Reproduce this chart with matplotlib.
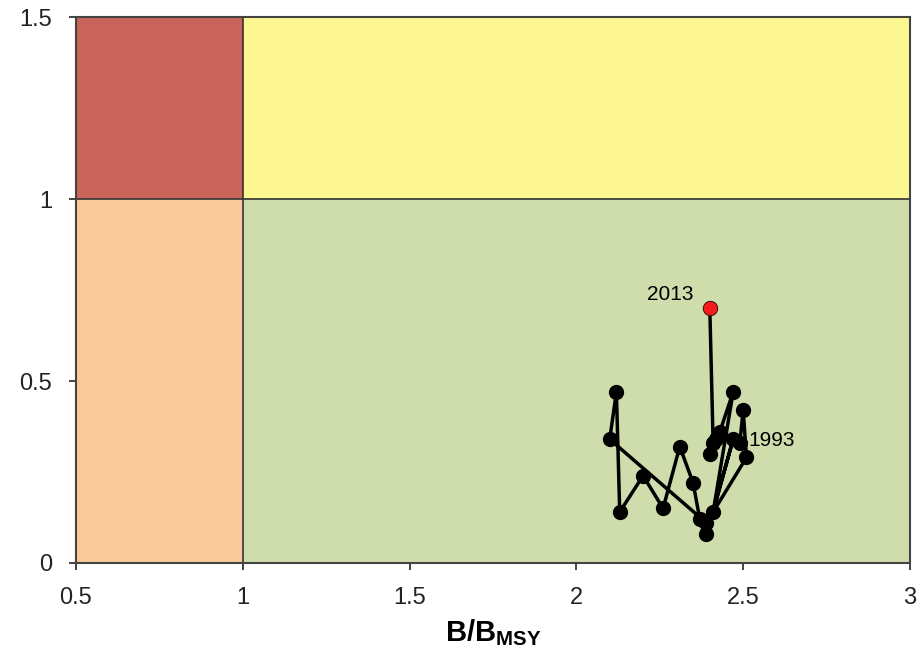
import numpy as np
import matplotlib.pyplot as plt

plt.rcParams['font.family'] = ['Liberation Sans Narrow', 'Liberation Sans', 'DejaVu Sans']
plt.rcParams['mathtext.fontset'] = 'custom'
plt.rcParams['mathtext.bf'] = 'Liberation Sans:bold'
plt.rcParams['mathtext.rm'] = 'Liberation Sans'

# stock trajectory, 1993 -> 2013
years = list(range(1993, 2014))
b_bmsy = [2.49, 2.50, 2.51, 2.39, 2.10, 2.12, 2.13, 2.20, 2.26, 2.31, 2.35,
          2.37, 2.39, 2.47, 2.41, 2.47, 2.43, 2.42, 2.40, 2.41, 2.40]
f_fmsy = [0.33, 0.42, 0.29, 0.11, 0.34, 0.47, 0.14, 0.24, 0.15, 0.32, 0.22,
          0.12, 0.08, 0.34, 0.14, 0.47, 0.36, 0.34, 0.30, 0.33, 0.70]

x_ticks = [0.5, 1, 1.5, 2, 2.5, 3]
x_labels = ['0.5', '1', '1.5', '2', '2.5', '3']
y_ticks = [0, 0.5, 1, 1.5]
y_labels = ['0', '0.5', '1', '1.5']

fig = plt.figure(figsize=(9.21, 6.59), dpi=100)
ax = fig.add_axes([0.0825, 0.1457, 0.9055, 0.8283])

# Kobe quadrants
ax.axvspan(0.5, 1, ymin=0, ymax=1/1.5, color='#f9c99b', lw=0)
ax.axvspan(0.5, 1, ymin=1/1.5, ymax=1, color='#c9645a', lw=0)
ax.axvspan(1, 3, ymin=0, ymax=1/1.5, color='#cfddac', lw=0)
ax.axvspan(1, 3, ymin=1/1.5, ymax=1, color='#fdf792', lw=0)
ax.axhline(1, color='#333333', lw=1.2)
ax.axvline(1, color='#333333', lw=1.2)

ax.plot(b_bmsy, f_fmsy, color='black', lw=2.5, marker='o', ms=10, zorder=3)
ax.plot(b_bmsy[-1], f_fmsy[-1], 'o', color='#f41c1c', mec='#f41c1c', ms=9, zorder=4)

ax.annotate(str(years[-1]), (b_bmsy[-1], f_fmsy[-1]), xytext=(-12, 10),
            textcoords='offset points', ha='right', va='center', fontsize=15)
ax.annotate(str(years[0]), (b_bmsy[0], f_fmsy[0]), xytext=(6, 2),
            textcoords='offset points', ha='left', va='center', fontsize=15)

ax.set_xlim(0.5, 3)
ax.set_ylim(0, 1.5)
ax.set_xticks(x_ticks)
ax.set_xticklabels(x_labels)
ax.set_yticks(y_ticks)
ax.set_yticklabels(y_labels)
ax.tick_params(labelsize=17, colors='#222222', length=5, width=1.2)
ax.tick_params(axis='x', pad=12)
ax.tick_params(axis='y', pad=12)
for s in ax.spines.values():
    s.set_color('#444444')
    s.set_linewidth(1.5)

ax.set_xlabel(r'B/B$_{\mathbf{MSY}}$', fontsize=21, fontweight='bold', labelpad=6)

fig.savefig('out.png', dpi=100)
